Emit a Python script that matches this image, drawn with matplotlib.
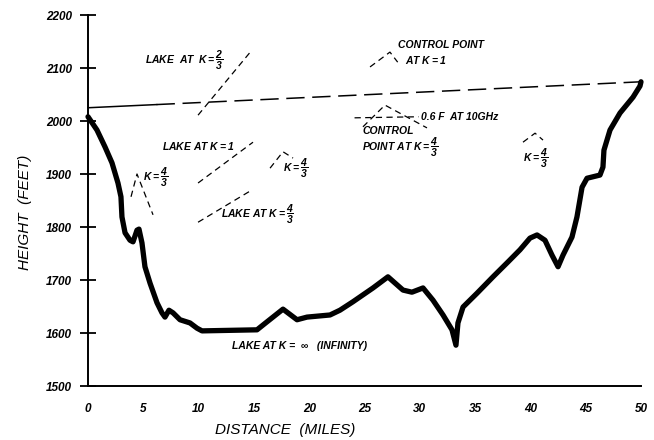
import numpy as np
import matplotlib
matplotlib.use("Agg")
import matplotlib.pyplot as plt

plt.rcParams.update({
    'font.family': ['Liberation Sans', 'DejaVu Sans'],
    'mathtext.fontset': 'custom',
    'mathtext.rm': 'Liberation Sans:bold:italic',
    'mathtext.it': 'Liberation Sans:bold:italic',
    'mathtext.bf': 'Liberation Sans:bold:italic',
})

# terrain profile (miles, feet)
dist = [0, 0.81, 1.54, 2.17, 2.71, 2.98, 3.07, 3.35, 3.80, 4.07, 4.43, 4.61, 4.88,
        5.15, 5.61, 6.24, 6.69, 6.96, 7.32, 7.69, 8.32, 9.22, 9.86, 10.31, 15.28,
        16.18, 17.63, 18.90, 19.80, 21.88, 22.78, 23.96, 25.77, 27.12, 28.48, 29.29,
        30.29, 31.19, 32.10, 32.91, 33.27, 33.45, 33.91, 35.17, 36.62, 37.97, 39.06,
        39.96, 40.60, 41.32, 41.95, 42.50, 42.95, 43.76, 44.21, 44.67, 45.12, 46.29,
        46.56, 46.65, 47.20, 48.10, 49.28, 49.91, 50.0]
height = [2008, 1983, 1951, 1921, 1883, 1857, 1819, 1789, 1775, 1772, 1794, 1796, 1770,
          1725, 1694, 1657, 1638, 1630, 1643, 1638, 1625, 1619, 1609, 1604, 1606,
          1621, 1645, 1625, 1630, 1634, 1643, 1659, 1685, 1706, 1681, 1677,
          1685, 1662, 1634, 1606, 1577, 1619, 1649, 1675, 1706, 1734, 1757,
          1779, 1785, 1775, 1747, 1725, 1747, 1781, 1819, 1875, 1892, 1898,
          1913, 1945, 1983, 2015, 2045, 2066, 2074]

# line of sight
los_solid_x = [0, 6.2]
los_solid_y = [2025, 2031]
los_dash_x = [6.2, 50]
los_dash_y = [2031, 2074]

# lake lines
lake23_x, lake23_y = [9.95, 14.83], [2011, 2134]
lake1_x, lake1_y = [9.95, 14.92], [1883, 1960]
lake43_x, lake43_y = [9.95, 14.83], [1809, 1870]

# earth bulge marks
bulge_a_x, bulge_a_y = [3.89, 4.43, 5.88], [1857, 1900, 1823]
bulge_b_x, bulge_b_y = [16.46, 17.63, 18.54], [1911, 1942, 1930]
ctrl1_x, ctrl1_y = [25.5, 27.3, 28.0], [2102, 2130, 2111]
ctrl43_x, ctrl43_y = [24.86, 26.85, 30.65], [1989, 2030, 1987]
fres_x, fres_y = [24.1, 29.9], [2006, 2008]
bulge_c_x, bulge_c_y = [39.33, 40.42, 41.14], [1960, 1977, 1964]

xticks = [0, 5, 10, 15, 20, 25, 30, 35, 40, 45, 50]
yticks = [1500, 1600, 1700, 1800, 1900, 2000, 2100, 2200]

fig = plt.figure(figsize=(6.54, 4.40), dpi=100)
ax = fig.add_axes([88/654, 54/440, 553/654, 371/440])

ax.plot(dist, height, color='black', lw=3.8, solid_joinstyle='round',
        solid_capstyle='round', clip_on=False)
ax.plot(los_solid_x, los_solid_y, color='black', lw=1.1, clip_on=False)
ax.plot(los_dash_x, los_dash_y, color='black', lw=1.1, linestyle=(0, (12, 5)), clip_on=False)

dash = (0, (5, 3.5))
for xs, ys in [(lake23_x, lake23_y), (lake1_x, lake1_y), (lake43_x, lake43_y),
               (bulge_a_x, bulge_a_y), (bulge_b_x, bulge_b_y), (ctrl1_x, ctrl1_y),
               (ctrl43_x, ctrl43_y), (fres_x, fres_y), (bulge_c_x, bulge_c_y)]:
    ax.plot(xs, ys, color='black', lw=0.9, linestyle=dash)

tk = dict(fontsize=7.5, fontweight='bold', fontstyle='italic', va='center', ha='left')
ax.text(5.15, 2115, r'LAKE  AT  $K = \dfrac{2}{3}$', **tk)
ax.text(6.7, 1953, r'LAKE AT $K = 1$', **tk)
ax.text(12.0, 1823, r'LAKE AT $K = \dfrac{4}{3}$', **tk)
ax.text(4.97, 1893, r'$K = \dfrac{4}{3}$', **tk)
ax.text(17.63, 1911, r'$K = \dfrac{4}{3}$', **tk)
ax.text(28.0, 2143, 'CONTROL POINT', **tk)
ax.text(28.7, 2115, r'AT $K = 1$', **tk)
ax.text(30.1, 2008, '0.6 F  AT 10GHz', **tk)
ax.text(24.8, 1982, 'CONTROL', **tk)
ax.text(24.8, 1950, r'POINT AT $K = \dfrac{4}{3}$', **tk)
ax.text(39.3, 1930, r'$K = \dfrac{4}{3}$', **tk)
ax.text(13.0, 1575, 'LAKE AT K =  \u221e   (INFINITY)', **tk)

ax.set_xlim(0, 50)
ax.set_ylim(1500, 2200)
ax.set_xticks(xticks)
ax.set_yticks(yticks)
ax.set_xticks([50], minor=True)
for lab in ax.get_xticklabels() + ax.get_yticklabels():
    lab.set_fontweight('bold')
    lab.set_fontstyle('italic')
    lab.set_fontsize(8.5)
ax.tick_params(axis='x', which='major', length=0, pad=12)
ax.tick_params(axis='x', which='minor', direction='inout', length=10, width=1.5)
ax.tick_params(axis='y', direction='inout', length=11, width=1.3, pad=6)
for s in ['top', 'right']:
    ax.spines[s].set_visible(False)
for s in ['left', 'bottom']:
    ax.spines[s].set_linewidth(1.4)

fig.text(25/654, 1 - 212/440, 'HEIGHT  (FEET)', rotation=90, fontsize=11,
         fontstyle='italic', ha='center', va='center')
fig.text(285/654, 1 - 430/440, 'DISTANCE  (MILES)', fontsize=11,
         fontstyle='italic', ha='center', va='center')

fig.savefig('out.png', dpi=100)
